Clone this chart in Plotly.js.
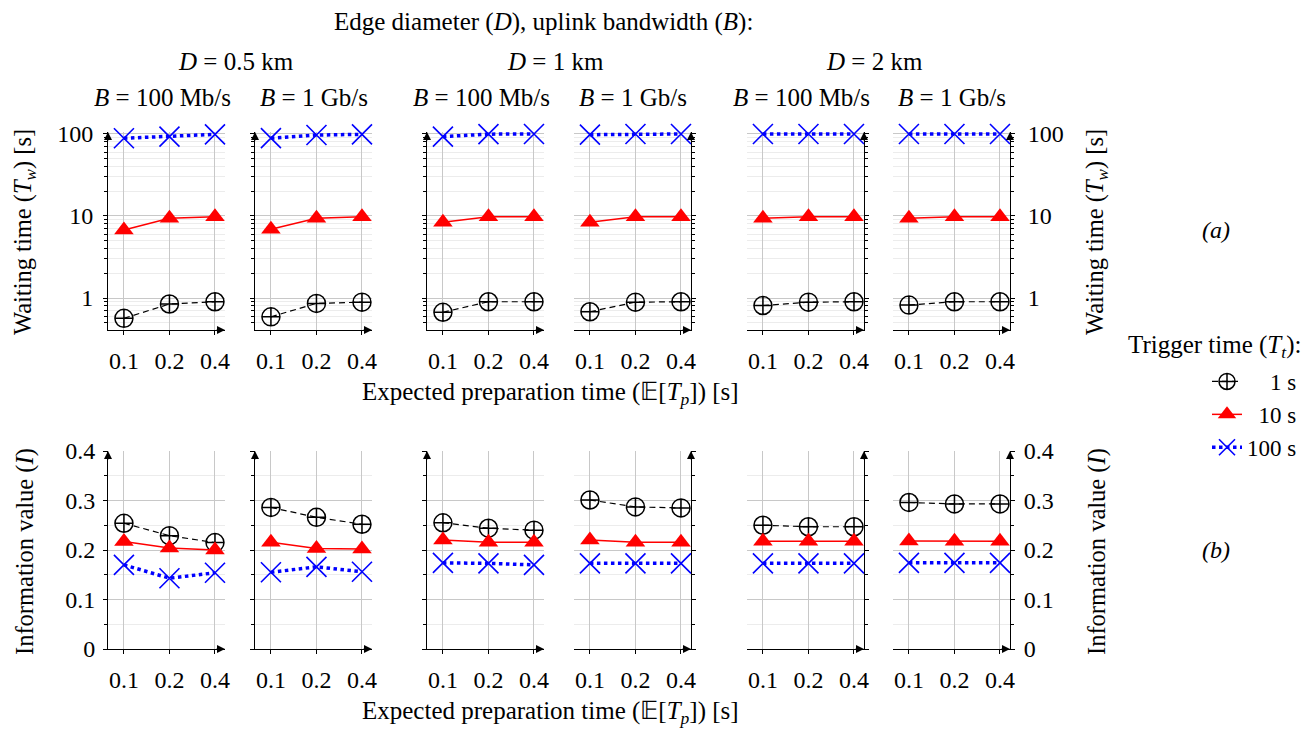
<!DOCTYPE html>
<html>
<head>
<meta charset="utf-8">
<script src="https://cdn.plot.ly/plotly-3.0.1.min.js"></script>
<style>html,body{margin:0;padding:0;background:#fff;}#chart{width:1313px;height:729px;}</style>
</head>
<body>
<div id="chart"></div>
<script>
// ---------- data ----------
const categories = ['0.1', '0.2', '0.4'];           // expected preparation time E[Tp] [s]
const diameters = ['0.5', '0.5', '1', '1', '2', '2']; // edge diameter D per panel
const bandwidths = ['100 Mb/s', '1 Gb/s', '100 Mb/s', '1 Gb/s', '100 Mb/s', '1 Gb/s'];
const seriesNames = ['1 s', '10 s', '100 s'];        // trigger time Tt

// (a) waiting time Tw [s], one row per panel
const wait_1s   = [[0.565, 0.845, 0.90], [0.59, 0.86, 0.89], [0.67, 0.90, 0.90], [0.68, 0.89, 0.90], [0.81, 0.89, 0.90], [0.82, 0.90, 0.90]];
const wait_10s  = [[6.75, 9.4, 9.8], [6.9, 9.4, 9.8], [8.4, 9.8, 9.8], [8.4, 9.8, 9.8], [9.4, 9.8, 9.8], [9.4, 9.8, 9.8]];
const wait_100s = [[88.7, 92.7, 99], [89, 97, 99], [92.8, 99.5, 100], [98, 100, 100], [100, 100, 100], [100, 100, 100]];

// (b) information value I
const info_1s   = [[0.254, 0.229, 0.215], [0.286, 0.266, 0.252], [0.255, 0.244, 0.240], [0.301, 0.287, 0.285], [0.250, 0.247, 0.247], [0.296, 0.293, 0.293]];
const info_10s  = [[0.217, 0.204, 0.200], [0.2155, 0.203, 0.202], [0.220, 0.2155, 0.2155], [0.220, 0.2155, 0.2155], [0.2175, 0.2175, 0.2175], [0.218, 0.2175, 0.2175]];
const info_100s = [[0.170, 0.143, 0.154], [0.155, 0.166, 0.156], [0.174, 0.173, 0.170], [0.173, 0.173, 0.173], [0.173, 0.173, 0.173], [0.174, 0.174, 0.174]];

// ---------- layout helpers ----------
const W = 1313, H = 729;
const px = v => v / W;
const py = v => 1 - v / H;
const FONT = 'Liberation Serif, Times New Roman, serif';
const FS = 25;      // text
const TFS = 24;     // tick labels
const panelLeft = [108, 255, 427, 574, 747, 893];
const panelW = 117;
const GRID = '#c8c8c8', MINOR = '#ececec';

const styles = [
  {mode: 'lines+markers', line: {color: 'black', width: 1.2, dash: '6px,4px'},
   marker: {symbol: 'circle-cross-open', size: 18, color: 'black', line: {color: 'black', width: 1.5}}},
  {mode: 'lines+markers', line: {color: '#ff0000', width: 1.5},
   marker: {symbol: 'triangle-up', size: 17, color: '#ff0000'}},
  {mode: 'lines+markers', line: {color: '#0000ff', width: 3.5, dash: 'dot'},
   marker: {symbol: 'x-thin-open', size: 20, color: '#0000ff', line: {color: '#0000ff', width: 1.6}}}
];

const traces = [];
const layout = {
  width: W, height: H,
  margin: {l: 0, r: 0, t: 0, b: 0},
  paper_bgcolor: 'white', plot_bgcolor: 'white',
  font: {family: FONT, size: FS, color: 'black'},
  showlegend: true,
  legend: {x: px(1207), y: py(360), xanchor: 'left', yanchor: 'top', bgcolor: 'rgba(0,0,0,0)',
           font: {family: FONT, size: 23}, itemsizing: 'trace', tracegroupgap: 0},
  annotations: []
};

function addArrows(k, side) {
  layout.annotations.push({xref: 'x' + k + ' domain', yref: 'y' + k + ' domain', x: side === 'left' ? 0 : 1, y: 1,
    axref: 'pixel', ayref: 'pixel', ax: 0, ay: 10, showarrow: true, arrowhead: 2, arrowsize: 1.6, arrowwidth: 1,
    arrowcolor: 'black', text: '', standoff: 0});
  layout.annotations.push({xref: 'x' + k + ' domain', yref: 'y' + k + ' domain', x: 1, y: 0,
    axref: 'pixel', ayref: 'pixel', ax: -10, ay: 0, showarrow: true, arrowhead: 2, arrowsize: 1.6, arrowwidth: 1,
    arrowcolor: 'black', text: '', standoff: 0});
}

for (let i = 0; i < 6; i++) {
  const side = i < 3 ? 'left' : 'right';
  const xdom = [px(panelLeft[i]), px(panelLeft[i] + panelW)];
  const showLab = (i === 0 || i === 5);
  [['top', i + 1], ['bot', i + 7]].forEach(([row, k]) => {
    const xa = {
      type: 'category', domain: xdom, range: [-0.35, 2.22], anchor: 'y' + k,
      showline: true, linecolor: 'black', linewidth: 1, mirror: false,
      ticks: 'outside', ticklen: 4, tickcolor: 'black', tickwidth: 1,
      showgrid: true, gridcolor: GRID, gridwidth: 1, zeroline: false,
      tickfont: {family: FONT, size: TFS}, ticklabelstandoff: 5, fixedrange: true
    };
    let ya;
    if (row === 'top') {
      ya = {
        type: 'log', domain: [py(330), py(132)], range: [-0.39, 2.024], anchor: 'x' + k, side: side,
        tickmode: 'linear', tick0: 0, dtick: 1,
        showline: true, linecolor: 'black', linewidth: 1,
        ticks: 'outside', ticklen: 4, tickcolor: 'black', showticklabels: showLab,
        showgrid: true, gridcolor: GRID, zeroline: false,
        minor: {dtick: 'D1', ticks: 'outside', ticklen: 3, tickcolor: 'black', showgrid: true, gridcolor: MINOR},
        tickfont: {family: FONT, size: TFS}, ticklabelstandoff: side === 'left' ? 5 : 8, fixedrange: true
      };
    } else {
      ya = {
        type: 'linear', domain: [py(649), py(451)], range: [0, 0.4], anchor: 'x' + k, side: side,
        tickmode: 'linear', tick0: 0, dtick: 0.1,
        showline: true, linecolor: 'black', linewidth: 1,
        ticks: 'outside', ticklen: 4, tickcolor: 'black', showticklabels: showLab,
        showgrid: true, gridcolor: GRID, zeroline: false,
        minor: {dtick: 0.05, ticks: 'outside', ticklen: 3, tickcolor: 'black', showgrid: true, gridcolor: MINOR},
        tickfont: {family: FONT, size: TFS}, ticklabelstandoff: side === 'left' ? 3 : 4, fixedrange: true
      };
    }
    layout['xaxis' + k] = xa;
    layout['yaxis' + k] = ya;
    addArrows(k, side);

    const ys = row === 'top' ? [wait_1s[i], wait_10s[i], wait_100s[i]] : [info_1s[i], info_10s[i], info_100s[i]];
    ys.forEach((yv, s) => {
      traces.push(Object.assign({
        type: 'scatter', x: categories, y: yv, xaxis: 'x' + k, yaxis: 'y' + k,
        name: '\u2007'.repeat(2 - s) + seriesNames[s], legendgroup: 'g' + s,
        showlegend: (k === 1), cliponaxis: false, hoverinfo: 'skip'
      }, JSON.parse(JSON.stringify(styles[s]))));
    });
  });
}

// ---------- text annotations ----------
function txt(x, y, text, extra, size) {
  layout.annotations.push(Object.assign({xref: 'paper', yref: 'paper', x: px(x), y: py(y), text: text,
    showarrow: false, xanchor: 'center', yanchor: 'middle', font: {family: FONT, size: size || FS, color: 'black'}}, extra || {}));
}
txt(543, 22, 'Edge diameter (<i>D</i>), uplink bandwidth (<i>B</i>):');
[0, 2, 4].forEach(i => {
  const c = (panelLeft[i] + panelLeft[i + 1] + panelW) / 2;
  txt(c - 4, 62, '<i>D</i> = ' + diameters[i] + ' km');
});
for (let i = 0; i < 6; i++) {
  txt(panelLeft[i] + panelW / 2 - (i % 2 === 0 ? 4 : 0), 98, '<i>B</i> = ' + bandwidths[i]);
}
txt(550, 394, 'Expected preparation time (\uD835\uDD3C[<i>T</i><sub><i>p</i></sub>]) [s]');
txt(550, 712, 'Expected preparation time (\uD835\uDD3C[<i>T</i><sub><i>p</i></sub>]) [s]');
txt(25, 232, 'Waiting time (<i>T</i><sub><i>w</i></sub>) [s]', {textangle: -90}, 24.5);
txt(1097, 232, 'Waiting time (<i>T</i><sub><i>w</i></sub>) [s]', {textangle: -90}, 24.5);
txt(25, 552, 'Information value (<i>I</i>)', {textangle: -90}, 24.5);
txt(1097, 552, 'Information value (<i>I</i>)', {textangle: -90}, 24.5);
txt(1216, 230, '<i>(a)</i>', null, 24);
txt(1216, 550, '<i>(b)</i>', null, 24);
txt(1214, 346, 'Trigger time (<i>T</i><sub><i>t</i></sub>):');

Plotly.newPlot('chart', traces, layout, {staticPlot: true, displayModeBar: false});
</script>
</body>
</html>
